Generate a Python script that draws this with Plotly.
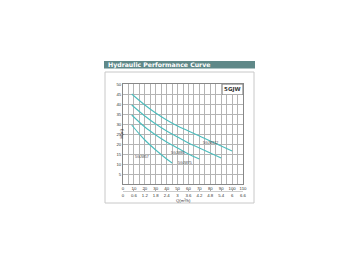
import plotly.graph_objects as go

# ---- data ----
flow_lmin_ticks = [0, 10, 20, 30, 40, 50, 60, 70, 80, 90, 100, 110]
flow_m3h_ticks = [0, 0.6, 1.2, 1.8, 2.4, 3, 3.6, 4.2, 4.8, 5.4, 6, 6.6]
flow_m3h_text = ["0", "0.6", "1.2", "1.8", "2.4", "3", "3.6", "4.2", "4.8", "5.4", "6", "6.6"]
head_ticks = [5, 10, 15, 20, 25, 30, 35, 40, 45, 50]

series_names = ["5GJW112", "5GJW85", "5GJW75", "5GJW57"]
q1 = [8, 20, 30, 40, 50, 60, 70, 80, 90, 100]
h1 = [45, 39.5, 35.5, 32, 29, 26.5, 24, 21.5, 19, 16.5]
q2 = [8, 20, 30, 40, 50, 60, 70, 80, 90]
h2 = [39.5, 34, 30, 26.5, 23.5, 20.5, 18, 15.5, 13]
q3 = [8, 20, 30, 40, 50, 60, 70]
h3 = [34.5, 28.5, 24.5, 21, 18, 15, 12.5]
q4 = [8, 15, 20, 30, 40, 45]
h4 = [29.5, 25, 22, 17, 12.5, 10.5]
label_q = [80, 50, 57, 17]
label_h = [20.5, 15.5, 10.5, 13.5]

curves = [(q1, h1), (q2, h2), (q3, h3), (q4, h4)]
line_color = "#4bbdbd"
grid_color = "#b4b4b4"

fig = go.Figure()
for (q, h), name in zip(curves, series_names):
    fig.add_trace(go.Scatter(x=q, y=h, mode="lines", name=name,
                             line=dict(color=line_color, width=1.1, shape="spline"),
                             showlegend=False, hoverinfo="skip"))
# dummy trace for the secondary (m3/h) axis
fig.add_trace(go.Scatter(x=[flow_m3h_ticks[0], flow_m3h_ticks[-1]], y=[None, None],
                         xaxis="x2", yaxis="y", mode="lines", showlegend=False,
                         hoverinfo="skip"))

for name, lx, ly in zip(series_names, label_q, label_h):
    fig.add_annotation(x=lx, y=ly, text=name, showarrow=False,
                       font=dict(size=3.5, color="#444444", family="Liberation Sans"))

W, H = 360, 270
L, R, T, B = 123, 117, 84, 79
pw, ph = W - L - R, H - T - B

def px(x):
    return (x - L) / pw

def py(y):
    return (H - B - y) / ph

fig.update_layout(
    width=W, height=H,
    margin=dict(l=L, r=R, t=T, b=B),
    paper_bgcolor="white", plot_bgcolor="white",
    font=dict(family="Liberation Sans", size=4.5, color="#333333"),
    xaxis=dict(range=[0, 110], tickvals=flow_lmin_ticks, showgrid=True,
               gridcolor=grid_color, gridwidth=0.6,
               minor=dict(dtick=5, showgrid=True, gridcolor=grid_color, gridwidth=0.6),
               showline=True, linecolor="#888888", linewidth=0.8, mirror=True,
               ticks="", ticklen=0, tickfont=dict(size=4.3), zeroline=False,
               anchor="y", fixedrange=True),
    xaxis2=dict(range=[flow_m3h_ticks[0], flow_m3h_ticks[-1]], tickvals=flow_m3h_ticks,
                ticktext=flow_m3h_text, overlaying="x", anchor="free", position=0,
                side="bottom", showgrid=False, showline=True, linecolor="#cccccc",
                linewidth=0.6, ticks="inside", ticklen=2, tickcolor="#aaaaaa",
                tickfont=dict(size=4.3), zeroline=False),
    yaxis=dict(range=[0, 50], tickvals=head_ticks, showgrid=True,
               gridcolor=grid_color, gridwidth=0.6,
               showline=True, linecolor="#888888", linewidth=0.8, mirror=True,
               ticks="", tickfont=dict(size=4.3), zeroline=False,
               domain=[py(184), 1]),
)

# frame, title bar
fig.add_shape(type="rect", xref="paper", yref="paper",
              x0=px(105), x1=px(254), y0=py(203), y1=py(72),
              line=dict(color="#c8c8c8", width=1), fillcolor="rgba(0,0,0,0)", layer="below")
fig.add_shape(type="rect", xref="paper", yref="paper",
              x0=px(104), x1=px(255), y0=py(68.5), y1=py(61),
              line=dict(width=0), fillcolor="#5f8888", layer="above")
fig.add_annotation(xref="paper", yref="paper", x=px(106), y=py(64.8), xanchor="left",
                   yanchor="middle", text="<b>Hydraulic Performance Curve</b>",
                   showarrow=False, font=dict(size=6.2, color="white", family="DejaVu Sans"))
fig.add_annotation(xref="paper", yref="paper", x=1, y=1, xanchor="right", yanchor="top",
                   text="<b>5GJW</b>", showarrow=False, bgcolor="white",
                   bordercolor="#888888", borderwidth=0.6, borderpad=1.5,
                   font=dict(size=5.5, color="#333333", family="DejaVu Sans"))
fig.add_annotation(xref="paper", yref="paper", x=px(116), y=py(134), text="H(m)",
                   textangle=-90, showarrow=False, font=dict(size=4.3))
fig.add_annotation(xref="paper", yref="paper", x=px(183), y=py(200), yanchor="middle",
                   text="Q(m³/h)", showarrow=False, font=dict(size=4.2))

fig.write_html("out.html")
